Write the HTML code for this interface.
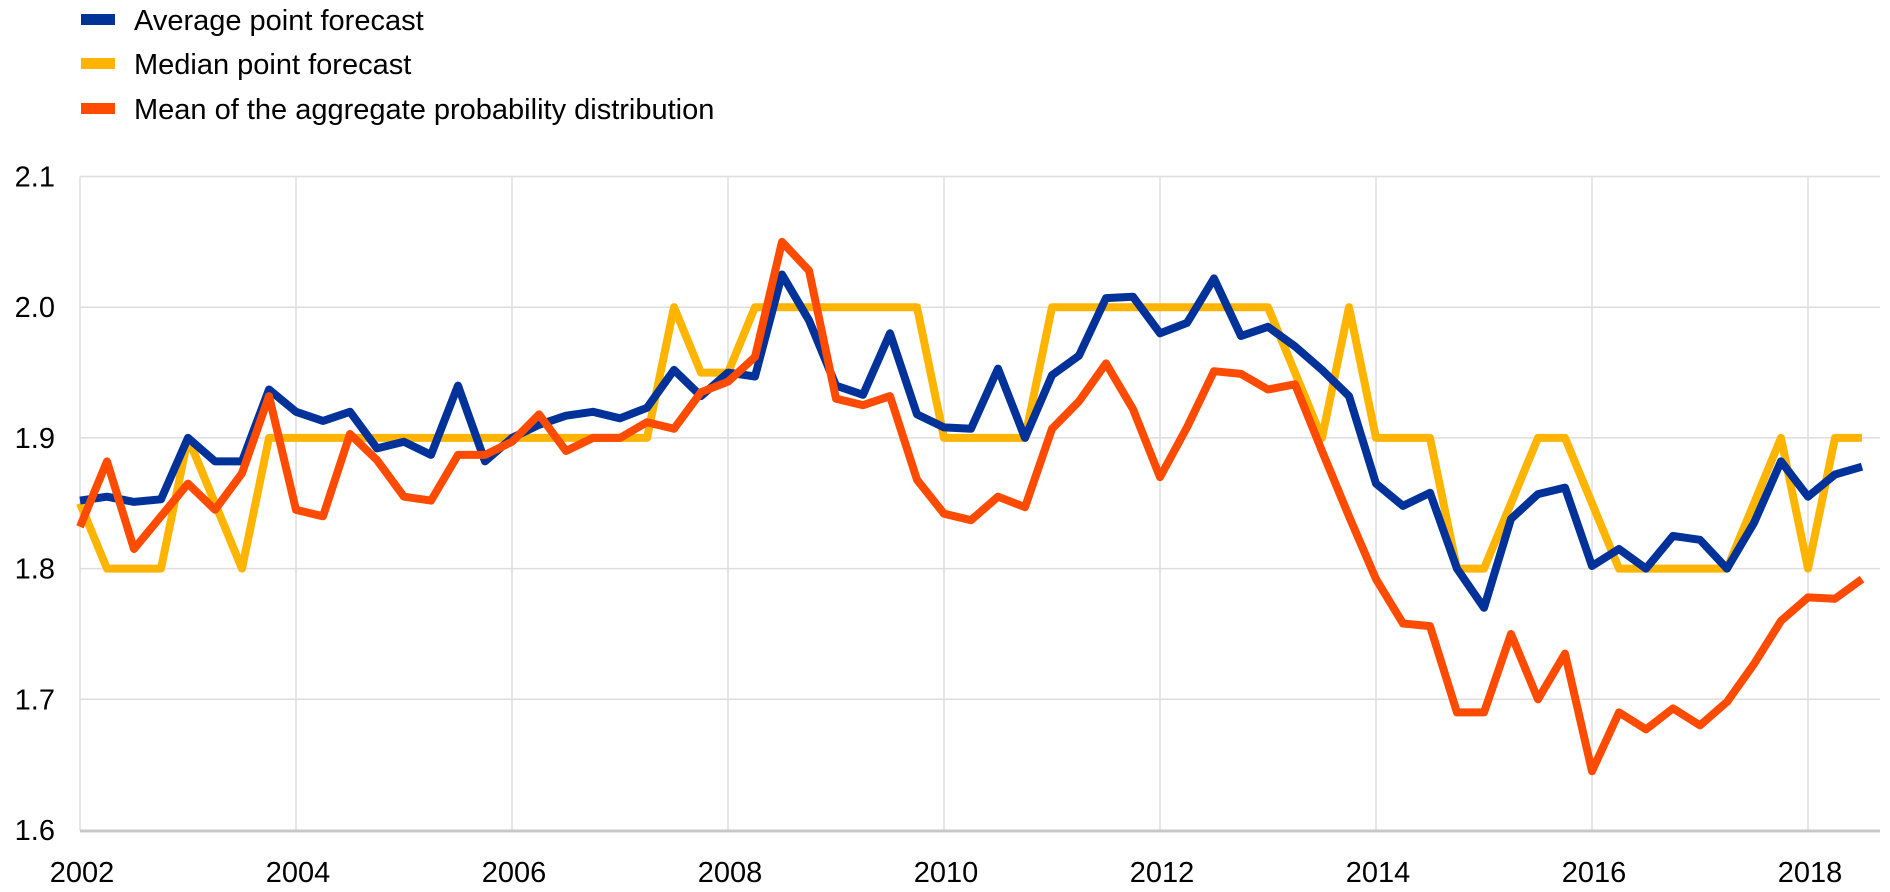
<!DOCTYPE html>
<html><head><meta charset="utf-8"><style>
html,body{margin:0;padding:0;background:#fff;}
svg{display:block;font-family:"Liberation Sans",Arial,sans-serif;}
</style></head><body>
<svg id="chart" width="1890" height="892" viewBox="0 0 1890 892">
<g id="legend">
  <g><rect x="81" y="14" width="34" height="11" fill="#003299"/><text x="134" y="30" font-size="29">Average point forecast</text></g>
  <g><rect x="81" y="58" width="34" height="11" fill="#ffb400"/><text x="134" y="74" font-size="29">Median point forecast</text></g>
  <g><rect x="81" y="103" width="34" height="11" fill="#ff4b00"/><text x="134" y="119" font-size="29">Mean of the aggregate probability distribution</text></g>
</g>
<g id="grid"></g>
<g id="series"></g>
<g id="axes"></g>
</svg>
<script>
const xTickYears = [2002,2004,2006,2008,2010,2012,2014,2016,2018];
const yTicks = [1.6,1.7,1.8,1.9,2.0,2.1];
const startYear = 2002;
const averageForecast = [1.852,1.855,1.851,1.853,1.90,1.882,1.882,1.937,1.92,1.913,1.92,1.892,1.897,1.887,1.94,1.882,1.90,1.91,1.917,1.92,1.915,1.923,1.952,1.932,1.95,1.947,2.025,1.99,1.94,1.933,1.98,1.918,1.908,1.907,1.953,1.90,1.948,1.963,2.007,2.008,1.98,1.988,2.022,1.978,1.985,1.97,1.952,1.932,1.865,1.848,1.858,1.80,1.77,1.838,1.857,1.862,1.802,1.815,1.80,1.825,1.822,1.80,1.835,1.882,1.855,1.872,1.878];
const medianForecast = [1.85,1.80,1.80,1.80,1.90,1.85,1.80,1.90,1.90,1.90,1.90,1.90,1.90,1.90,1.90,1.90,1.90,1.90,1.90,1.90,1.90,1.90,2.00,1.95,1.95,2.00,2.00,2.00,2.00,2.00,2.00,2.00,1.90,1.90,1.90,1.90,2.00,2.00,2.00,2.00,2.00,2.00,2.00,2.00,2.00,1.95,1.90,2.00,1.90,1.90,1.90,1.80,1.80,1.85,1.90,1.90,1.85,1.80,1.80,1.80,1.80,1.80,1.85,1.90,1.80,1.90,1.90];
const meanDistribution = [1.832,1.882,1.815,1.84,1.865,1.845,1.873,1.932,1.845,1.84,1.903,1.883,1.855,1.852,1.887,1.887,1.897,1.918,1.89,1.90,1.90,1.912,1.907,1.935,1.943,1.962,2.05,2.028,1.93,1.925,1.932,1.868,1.842,1.837,1.855,1.847,1.907,1.928,1.957,1.922,1.87,1.908,1.951,1.949,1.937,1.941,1.89,1.84,1.792,1.758,1.756,1.69,1.69,1.75,1.70,1.735,1.645,1.69,1.677,1.693,1.68,1.698,1.727,1.76,1.778,1.777,1.792];

const NS="http://www.w3.org/2000/svg";
const L=80, R=1880, T=176.5, B=830;
const x = yr => L + (yr-2002)*108.0;
const y = v => B - (v-1.6)/0.5*(B-T);
function mk(tag, attrs, parent){const e=document.createElementNS(NS,tag);for(const k in attrs)e.setAttribute(k,attrs[k]);parent.appendChild(e);return e;}
const grid=document.getElementById('grid'), axes=document.getElementById('axes'), series=document.getElementById('series');
yTicks.forEach(t=>{
  if(t>1.6){const l=mk('line',{x1:L,x2:R,y1:y(t),y2:y(t),stroke:'#dedede','stroke-width':1.5},grid);
  
  }
  const tx=mk('text',{x:55,y:y(t)+10,'text-anchor':'end','font-size':29},axes);
  tx.textContent=t.toFixed(1);
  
  
});
xTickYears.forEach(yr=>{
  const l=mk('line',{x1:x(yr),x2:x(yr),y1:T,y2:B,stroke:'#dedede','stroke-width':1.5},grid);
  
  
  const tx=mk('text',{x:x(yr)+2,y:882,'text-anchor':'middle','font-size':29},axes);
  tx.textContent=yr;
  
  
});
const ax=mk('line',{x1:L,x2:R,y1:B+1,y2:B+1,stroke:'#c8c8c8','stroke-width':3},axes);


function drawLine(arr,color,name){
  const pts=arr.map((v,i)=>x(startYear+i*0.25).toFixed(1)+','+y(v).toFixed(1)).join(' ');
  const p=mk('polyline',{points:pts,fill:'none',stroke:color,'stroke-width':8,'stroke-linejoin':'round','stroke-linecap':'butt'},series);
  
  
}
drawLine(medianForecast,'#ffb400','median-point-forecast-line');
drawLine(averageForecast,'#003299','average-point-forecast-line');
drawLine(meanDistribution,'#ff4b00','mean-aggregate-distribution-line');
</script>
</body></html>
